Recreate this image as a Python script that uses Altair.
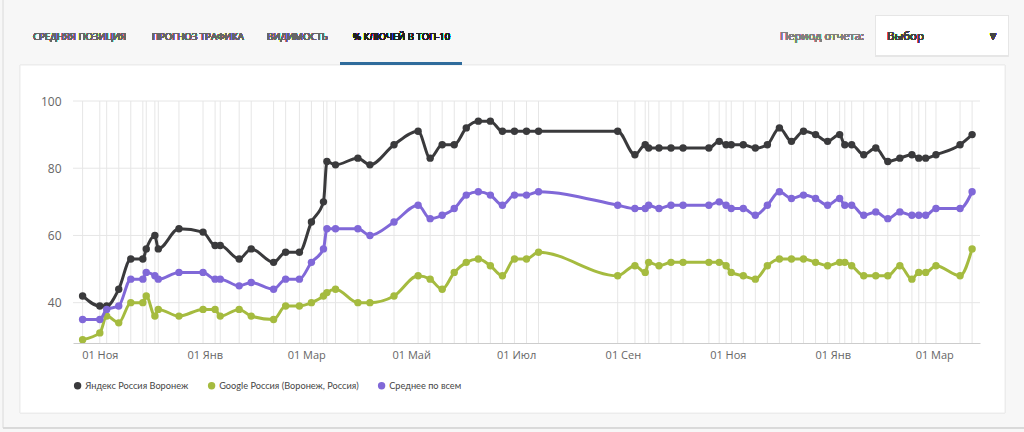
import altair as alt
import pandas as pd

# ---------------- data ----------------
dates = [
    "2017-10-22", "2017-11-01", "2017-11-05", "2017-11-12", "2017-11-19", "2017-11-26",
    "2017-11-28", "2017-12-03", "2017-12-05", "2017-12-17", "2017-12-31", "2018-01-07",
    "2018-01-10", "2018-01-21", "2018-01-28", "2018-02-10", "2018-02-17", "2018-02-25",
    "2018-03-04", "2018-03-11", "2018-03-13", "2018-03-18", "2018-03-31", "2018-04-07",
    "2018-04-21", "2018-05-05", "2018-05-12", "2018-05-19", "2018-05-26", "2018-06-02",
    "2018-06-09", "2018-06-16", "2018-06-23", "2018-06-30", "2018-07-07", "2018-07-14",
    "2018-08-29", "2018-09-08", "2018-09-14", "2018-09-16", "2018-09-22", "2018-09-29",
    "2018-10-06", "2018-10-21", "2018-10-27", "2018-10-31", "2018-11-03", "2018-11-10",
    "2018-11-17", "2018-11-24", "2018-12-01", "2018-12-08", "2018-12-15", "2018-12-22",
    "2018-12-29", "2019-01-05", "2019-01-08", "2019-01-12", "2019-01-19", "2019-01-26",
    "2019-02-02", "2019-02-09", "2019-02-16", "2019-02-20", "2019-02-24", "2019-03-02",
    "2019-03-16", "2019-03-23",
]
yandex = [
    42, 39, 39, 44, 53, 53, 56, 60, 56, 62, 61, 57, 57, 53, 56, 52, 55, 55,
    64, 70, 82, 81, 83, 81, 87, 91, 83, 87, 87, 92, 94, 94, 91, 91, 91, 91,
    91, 84, 87, 86, 86, 86, 86, 86, 88, 87, 87, 87, 86, 87, 92, 88, 91, 90,
    88, 90, 87, 87, 84, 86, 82, 83, 84, 83, 83, 84, 87, 90,
]
google = [
    29, 31, 36, 34, 40, 40, 42, 36, 38, 36, 38, 38, 36, 38, 36, 35, 39, 39,
    40, 42, 43, 44, 40, 40, 42, 48, 47, 44, 49, 52, 53, 51, 48, 53, 53, 55,
    48, 51, 49, 52, 51, 52, 52, 52, 52, 51, 49, 48, 47, 51, 53, 53, 53, 52,
    51, 52, 52, 51, 48, 48, 48, 51, 47, 49, 49, 51, 48, 56,
]
average = [
    35, 35, 38, 39, 47, 47, 49, 48, 47, 49, 49, 47, 47, 45, 46, 44, 47, 47,
    52, 56, 62, 62, 62, 60, 64, 69, 65, 66, 68, 72, 73, 72, 69, 72, 72, 73,
    69, 68, 68, 69, 68, 69, 69, 69, 70, 69, 68, 68, 66, 69, 73, 71, 72, 71,
    69, 71, 69, 69, 66, 67, 65, 67, 66, 66, 66, 68, 68, 73,
]
series_names = ["Яндекс Россия Воронеж", "Google Россия (Воронеж, Россия)", "Среднее по всем"]
series_colors = ["#3a3a3c", "#a5bb3f", "#8068d8"]
y_ticks = [40, 60, 80, 100]
tick_dates = ["2017-11-01", "2018-01-01", "2018-03-01", "2018-05-01", "2018-07-01",
              "2018-09-01", "2018-11-01", "2019-01-01", "2019-03-01"]
month_names = ["Янв", "Фев", "Мар", "Апр", "Май", "Июн", "Июл", "Авг", "Сен", "Окт", "Ноя", "Дек"]
tab_labels = ["СРЕДНЯЯ ПОЗИЦИЯ", "ПРОГНОЗ ТРАФИКА", "ВИДИМОСТЬ", "% КЛЮЧЕЙ В ТОП-10"]

FONT = "Open Sans"

rows = []
for name, vals in zip(series_names, [yandex, google, average]):
    for d, v in zip(dates, vals):
        rows.append({"date": d + "T00:00:00", "value": v, "series": name})
df = pd.DataFrame(rows)
dates_df = pd.DataFrame({"date": [d + "T00:00:00" for d in dates]})
yt_df = pd.DataFrame({"value": y_ticks})


def dt(s):
    y, m, d = s.split("-")
    return alt.DateTime(year=int(y), month=int(m), date=int(d))


x_scale = alt.Scale(domain=[alt.DateTime(year=2017, month=10, date=16, hours=10),
                            alt.DateTime(year=2019, month=3, date=27, hours=14)])
y_scale = alt.Scale(domain=[28, 100], nice=False, zero=False)
color_scale = alt.Scale(domain=series_names, range=series_colors)

label_expr = "'01 ' + [" + ",".join("'%s'" % m for m in month_names) + "][month(datum.value)]"

x_axis = alt.Axis(values=[dt(t) for t in tick_dates], labelExpr=label_expr, title=None,
                  grid=False, ticks=False, tickSize=0, domainColor="#cccccc",
                  labelColor="#666666", labelFontSize=11, labelFont=FONT, labelPadding=6,
                  labelFlush=False, zindex=1)
y_axis = alt.Axis(values=y_ticks, title=None, grid=False,
                  domain=False, ticks=False, tickSize=0, labelColor="#666666",
                  labelFontSize=12, labelFont=FONT, labelPadding=12, zindex=1)
legend = alt.Legend(orient="none", legendX=0, legendY=280, direction="horizontal", title=None,
                    symbolType="circle", symbolSize=55, symbolStrokeWidth=0,
                    labelFontSize=9.2, labelFont="Lato", labelColor="#454545",
                    labelLimit=400, columnPadding=18, labelOffset=3, padding=0, zindex=1)

# ---------------- decorations ----------------
W, H = 907, 242

bg_outer = alt.Chart(dates_df).mark_rect(fill="#f7f7f7").encode(
    x=alt.value(-73), x2=alt.value(951), y=alt.value(-101), y2=alt.value(327))
bottom_line = alt.Chart(dates_df).mark_rule(color="#d9d9d9", strokeWidth=1).encode(
    x=alt.value(-70), x2=alt.value(951), y=alt.value(327))
left_line = alt.Chart(dates_df).mark_rule(color="#e8e8e8", strokeWidth=1).encode(
    x=alt.value(-70), y=alt.value(-101), y2=alt.value(327))
card = alt.Chart(dates_df).mark_rect(fill="#ffffff", stroke="#ececec", strokeWidth=1).encode(
    x=alt.value(-53), x2=alt.value(932), y=alt.value(-36), y2=alt.value(312))

tab_x = [-40, 79, 194, 280]
tabs = []
for i, (lab, tx) in enumerate(zip(tab_labels, tab_x)):
    active = i == 3
    tabs.append(alt.Chart(dates_df).mark_text(
        align="left", baseline="middle", font=FONT, fontSize=9.6,
        color="#222222" if active else "#666666").encode(
        x=alt.value(tx), y=alt.value(-64), text=alt.value(lab)))
underline = alt.Chart(dates_df).mark_rect(fill="#2f6c9c").encode(
    x=alt.value(267), x2=alt.value(389), y=alt.value(-39), y2=alt.value(-36))
period = alt.Chart(dates_df).mark_text(align="left", baseline="middle", font=FONT,
                                       fontSize=11.2, color="#808080").encode(
    x=alt.value(707), y=alt.value(-64), text=alt.value("Период отчета:"))
dd_shadow = alt.Chart(dates_df).mark_rect(fill="#e6e6e6", cornerRadius=2).encode(
    x=alt.value(802), x2=alt.value(936), y=alt.value(-86), y2=alt.value(-44))
dd_box = alt.Chart(dates_df).mark_rect(fill="#ffffff").encode(
    x=alt.value(803), x2=alt.value(935), y=alt.value(-85), y2=alt.value(-46))
dd_text = alt.Chart(dates_df).mark_text(align="left", baseline="middle", font=FONT,
                                        fontSize=11.5, color="#444444").encode(
    x=alt.value(814), y=alt.value(-64), text=alt.value("Выбор"))
dd_arrow = alt.Chart(dates_df).mark_text(align="center", baseline="middle", font="DejaVu Sans",
                                         fontSize=8, color="#444444").encode(
    x=alt.value(920), y=alt.value(-64), text=alt.value("▼"))

# ---------------- chart ----------------
hrules = alt.Chart(yt_df).mark_rule(color="#e6e6e6", strokeWidth=1).encode(
    y=alt.Y("value:Q", scale=y_scale, axis=y_axis))
vrules = alt.Chart(dates_df).mark_rule(color="#e6e6e6", strokeWidth=1).encode(
    x=alt.X("date:T", scale=x_scale, axis=x_axis))

series_layers = []
for name, col in zip(series_names, series_colors):
    base = alt.Chart(df).transform_filter(alt.datum.series == name)
    line = base.mark_line(interpolate="monotone", strokeWidth=3, color=col).encode(
        x=alt.X("date:T", scale=x_scale, axis=x_axis),
        y=alt.Y("value:Q", scale=y_scale, axis=y_axis))
    pts = base.mark_circle(size=55, opacity=1).encode(
        x=alt.X("date:T", scale=x_scale, axis=x_axis),
        y=alt.Y("value:Q", scale=y_scale, axis=y_axis),
        color=alt.Color("series:N", scale=color_scale, legend=legend))
    series_layers += [line, pts]

chart = alt.layer(
    bg_outer, left_line, bottom_line, card, *tabs, underline, period, dd_shadow, dd_box,
    dd_text, dd_arrow, hrules, vrules, *series_layers
).properties(
    width=W, height=H,
    padding={"left": 73, "top": 101, "right": 44, "bottom": 89},
    autosize=alt.AutoSizeParams(type="none"),
    background="#f7f7f7",
).configure_view(stroke=None)

chart.save("out.html", embed_options={"renderer": "svg", "actions": False})
